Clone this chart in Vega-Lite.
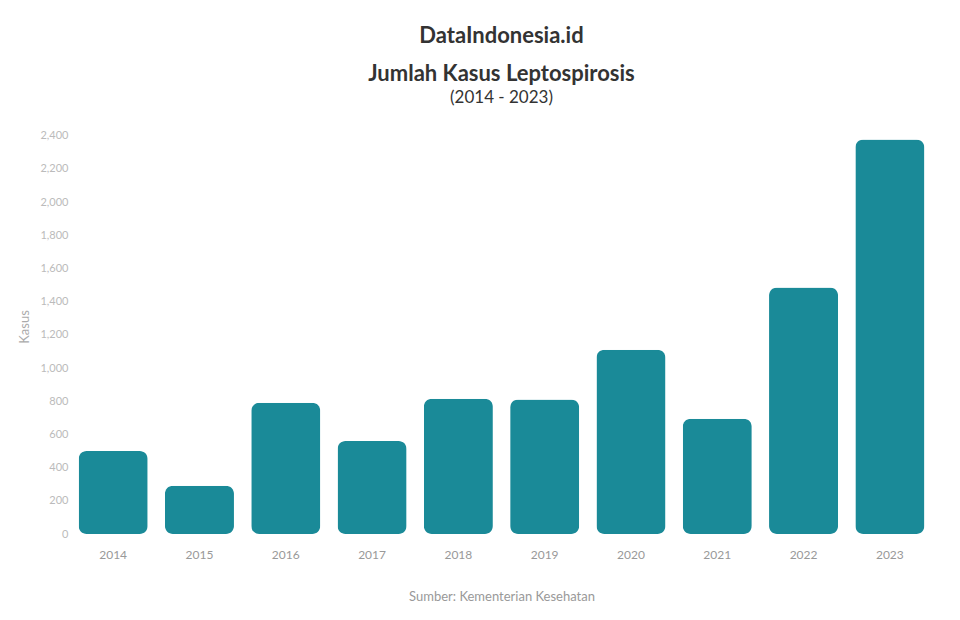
{
  "$schema": "https://vega.github.io/schema/vega-lite/v6.json",
  "width": 960,
  "height": 620,
  "autosize": {"type": "fit", "contains": "padding"},
  "padding": {"left": 18, "right": 27, "top": 25, "bottom": 17},
  "background": "white",
  "config": {"view": {"stroke": null}, "font": "Lato"},
  "title": {
    "text": ["DataIndonesia.id", "Jumlah Kasus Leptospirosis"],
    "subtitle": "(2014 - 2023)",
    "anchor": "middle",
    "fontSize": 22,
    "fontWeight": "bold",
    "color": "#333333",
    "lineHeight": 38,
    "subtitleFontSize": 17,
    "subtitleColor": "#333333",
    "subtitlePadding": 4,
    "offset": 12
  },
  "data": {
    "values": [
      {"tahun": "2014", "kasus": 500},
      {"tahun": "2015", "kasus": 290},
      {"tahun": "2016", "kasus": 790},
      {"tahun": "2017", "kasus": 560},
      {"tahun": "2018", "kasus": 815},
      {"tahun": "2019", "kasus": 810},
      {"tahun": "2020", "kasus": 1110},
      {"tahun": "2021", "kasus": 695},
      {"tahun": "2022", "kasus": 1485},
      {"tahun": "2023", "kasus": 2376}
    ]
  },
  "mark": {"type": "bar", "color": "#1A8A98", "cornerRadius": 8},
  "encoding": {
    "x": {
      "field": "tahun",
      "type": "ordinal",
      "scale": {"paddingInner": 0.2, "paddingOuter": 0.1},
      "axis": {
        "labelAngle": 0,
        "labelColor": "#999999",
        "labelFontSize": 12,
        "domain": false,
        "ticks": false,
        "labelPadding": 15,
        "title": "Sumber: Kementerian Kesehatan",
        "titleColor": "#999999",
        "titleFontSize": 13,
        "titleFontWeight": "normal",
        "titlePadding": 30
      }
    },
    "y": {
      "field": "kasus",
      "type": "quantitative",
      "scale": {"domain": [0, 2500]},
      "axis": {
        "grid": false,
        "domain": false,
        "ticks": false,
        "labelColor": "#bbbbbb",
        "labelFontSize": 11,
        "tickCount": 10,
        "title": "Kasus",
        "titleColor": "#aaaaaa",
        "titleFontSize": 13,
        "titleFontWeight": "normal",
        "titlePadding": 8
      }
    }
  }
}
